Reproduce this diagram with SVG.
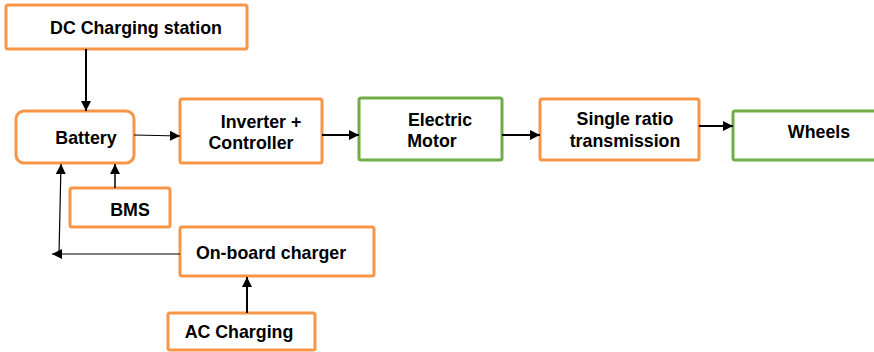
<svg xmlns="http://www.w3.org/2000/svg" width="874" height="352" viewBox="0 0 874 352">
<style>
.o{fill:#fff;stroke:#F79646;stroke-width:3}
.g{fill:#fff;stroke:#70AD47;stroke-width:3}
text{font-family:"Liberation Sans",Arial,sans-serif;font-weight:bold;font-size:17.8px;fill:#000;text-anchor:middle}
.c line{stroke:#000;fill:none}
</style>
<defs>
<marker id="a" viewBox="0 0 10 10" refX="10" refY="5" markerWidth="10" markerHeight="10" markerUnits="userSpaceOnUse" orient="auto"><path d="M0,0L10,5L0,10z" fill="#000"/></marker>
</defs>
<g id="dc"><rect class="o" x="6" y="5" width="241" height="44" rx="2"/><text x="136" y="34">DC Charging station</text></g>
<g id="battery"><rect class="o" x="16" y="111" width="118" height="52" rx="8"/><text x="86" y="144">Battery</text></g>
<g id="inverter"><rect class="o" x="180" y="99" width="142" height="64" rx="2"/><text x="261" y="128">Inverter +</text><text x="251" y="149">Controller</text></g>
<g id="motor"><rect class="g" x="359" y="98" width="143" height="62" rx="2"/><text x="440" y="126">Electric</text><text x="432" y="147">Motor</text></g>
<g id="trans"><rect class="o" x="540" y="99" width="159" height="61" rx="2"/><text x="625" y="125">Single ratio</text><text x="625" y="147">transmission</text></g>
<g id="wheels"><rect class="g" x="733" y="111" width="145" height="49" rx="2"/><text x="819" y="138">Wheels</text></g>
<g id="bms"><rect class="o" x="70" y="188" width="100" height="39" rx="2"/><text x="130" y="216">BMS</text></g>
<g id="obc"><rect class="o" x="180" y="227" width="194" height="49" rx="2"/><text x="271" y="259">On-board charger</text></g>
<g id="ac"><rect class="o" x="168" y="313" width="147" height="37" rx="2"/><text x="239" y="338">AC Charging</text></g>
<g class="c" id="connectors">
<line x1="86" y1="49" x2="86" y2="111" stroke-width="2" marker-end="url(#a)"/>
<line x1="134" y1="135" x2="180" y2="136" stroke-width="1.2" marker-end="url(#a)"/>
<line x1="322" y1="135" x2="359" y2="135" stroke-width="2" marker-end="url(#a)"/>
<line x1="502" y1="135" x2="540" y2="135" stroke-width="2" marker-end="url(#a)"/>
<line x1="699" y1="126" x2="733" y2="126" stroke-width="2" marker-end="url(#a)"/>
<line x1="115" y1="188" x2="115" y2="164" stroke-width="1.5" marker-end="url(#a)"/>
<line x1="180" y1="254" x2="52" y2="254" stroke-width="1.2" marker-end="url(#a)"/>
<line x1="59" y1="254" x2="61" y2="164" stroke-width="1.2" marker-end="url(#a)"/>
<line x1="247" y1="313" x2="247" y2="277" stroke-width="2" marker-end="url(#a)"/>
</g>
</svg>
